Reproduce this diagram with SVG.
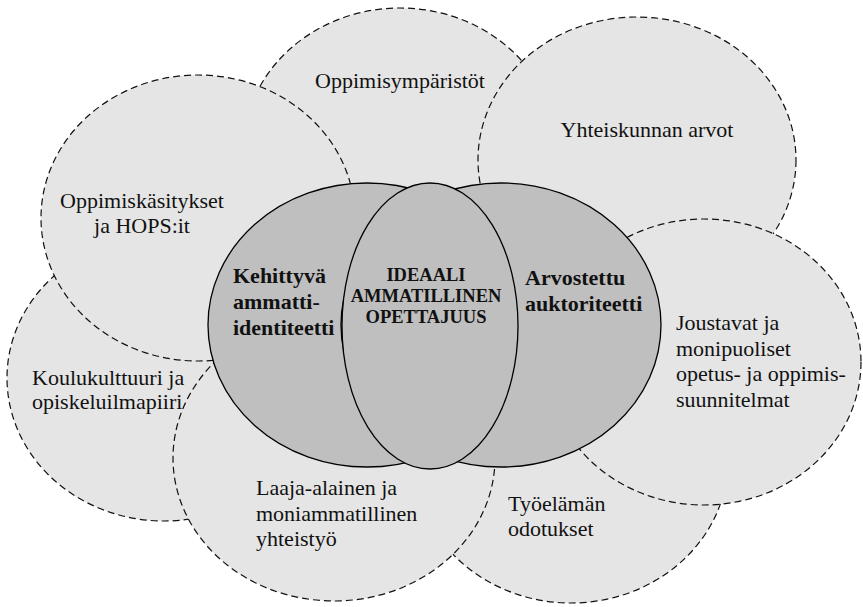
<svg xmlns="http://www.w3.org/2000/svg" width="863" height="607" viewBox="0 0 863 607">
<style>
.outer{fill:#e5e5e5;stroke:#111;stroke-width:1.2;stroke-dasharray:7 4}
.core{fill:#bfbfbf;stroke:#000;stroke-width:1.3}
text{font-family:"Liberation Serif","Times New Roman",serif;fill:#111}
.t{font-size:22px}
.b{font-size:22px;font-weight:bold}
.m{font-size:18.5px;font-weight:bold}
</style>
<rect width="863" height="607" fill="#fff"/>
<g id="oppimisymparistot">
<ellipse class="outer" cx="400" cy="151" rx="157" ry="143"/>
<text class="t" x="400" y="88" text-anchor="middle">Oppimisympäristöt</text>
</g>
<g id="koulukulttuuri">
<ellipse class="outer" cx="164" cy="378" rx="157" ry="143"/>
<text class="t" x="32" y="385">Koulukulttuuri ja</text>
<text class="t" x="32" y="409">opiskeluilmapiiri</text>
</g>
<g id="tyoelaman">
<ellipse class="outer" cx="571" cy="460" rx="157" ry="143"/>
<text class="t" x="508" y="511">Työelämän</text>
<text class="t" x="508" y="536">odotukset</text>
</g>
<g id="oppimiskasitykset">
<ellipse class="outer" cx="198" cy="218" rx="157" ry="143"/>
<text class="t" x="142" y="208" text-anchor="middle">Oppimiskäsitykset</text>
<text class="t" x="142" y="233" text-anchor="middle">ja HOPS:it</text>
</g>
<g id="yhteiskunnan">
<ellipse class="outer" cx="637" cy="160" rx="159" ry="143"/>
<text class="t" x="647" y="137" text-anchor="middle">Yhteiskunnan arvot</text>
</g>
<g id="joustavat">
<ellipse class="outer" cx="704" cy="362" rx="157" ry="143"/>
<text class="t" x="676" y="330">Joustavat ja</text>
<text class="t" x="676" y="356">monipuoliset</text>
<text class="t" x="676" y="381">opetus- ja oppimis-</text>
<text class="t" x="676" y="407">suunnitelmat</text>
</g>
<g id="laaja-alainen">
<ellipse class="outer" cx="334" cy="458" rx="161" ry="143"/>
<text class="t" x="256" y="495">Laaja-alainen ja</text>
<text class="t" x="256" y="521">moniammatillinen</text>
<text class="t" x="256" y="546">yhteistyö</text>
</g>
<g id="kehittyva">
<ellipse class="core" cx="367" cy="325" rx="159" ry="142"/>
<text class="b" x="233" y="283">Kehittyvä</text>
<text class="b" x="233" y="309">ammatti-</text>
<text class="b" x="233" y="335">identiteetti</text>
</g>
<g id="arvostettu">
<ellipse class="core" cx="501" cy="325" rx="160" ry="142"/>
<text class="b" x="525" y="285">Arvostettu</text>
<text class="b" x="525" y="311">auktoriteetti</text>
</g>
<g id="ideaali">
<ellipse class="core" cx="430" cy="326" rx="88" ry="143"/>
<text class="m" x="426" y="281" text-anchor="middle">IDEAALI</text>
<text class="m" x="426" y="302" text-anchor="middle">AMMATILLINEN</text>
<text class="m" x="426" y="323" text-anchor="middle">OPETTAJUUS</text>
</g>
</svg>
